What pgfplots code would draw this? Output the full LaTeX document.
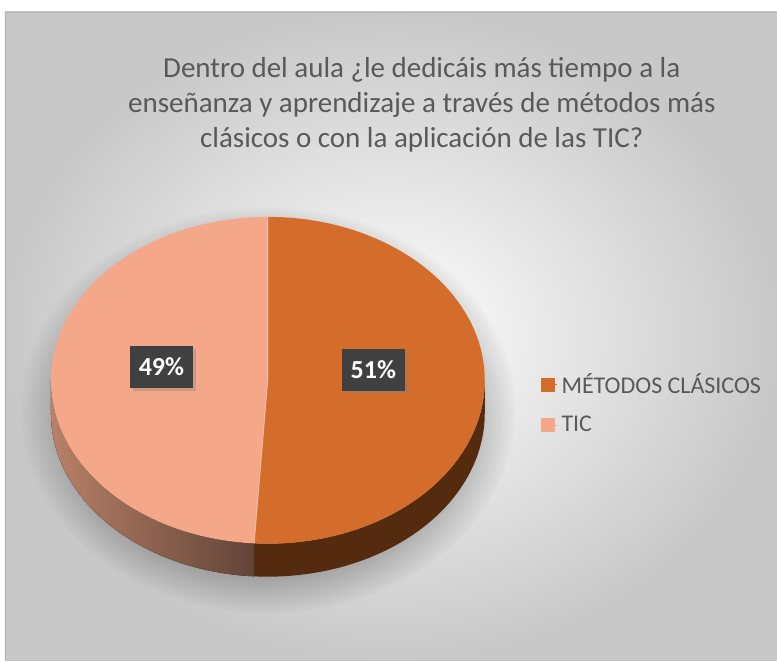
\documentclass[border=0pt]{standalone}
\usepackage{pgfplots}
\pgfplotsset{compat=1.18}
\usepackage{fontspec}
\setmainfont{Carlito}
\usetikzlibrary{calc,shadows,fadings}
\definecolor{cMet}{HTML}{D46D2C}
\definecolor{cTic}{HTML}{F4A889}
\definecolor{cMetSide}{HTML}{552B10}
\definecolor{cTicSideL}{HTML}{B88068}
\definecolor{cTicSideR}{HTML}{5C4034}
\definecolor{cTxt}{HTML}{595959}
\definecolor{cBox}{HTML}{404040}
\definecolor{cBgOut}{HTML}{C8C8C8}
% data (percent)
\def\valMet{51}
\def\valTic{49}
\begin{document}
\begin{tikzpicture}
\begin{axis}[x=0.5pt, y=0.5pt, xmin=0, xmax=777, ymin=-661, ymax=0,
  hide axis, clip=false, scale only axis,
  legend style={at={(axis cs:541,-404)}, anchor=west, draw=none, fill=none,
    font=\fontsize{12}{14}\selectfont, text=cTxt, row sep=6pt,
    inner sep=0pt},
  legend cell align=left,
  legend image code/.code={\fill[#1] (0pt,-3.3pt) rectangle (6.6pt,3.3pt); \path (0pt,0pt) -- (7.8pt,0pt);}]
% background
\fill[white] (axis cs:0,0) rectangle (axis cs:777,-661);
\shade[inner color=white, outer color=cBgOut] (axis cs:5,-12) rectangle (axis cs:777,-661);
\draw[gray!60, line width=0.4pt] (axis cs:5,-661) -- (axis cs:5,-12) -- (axis cs:777,-12);
% shadow
\fill[black, opacity=0.25, path fading=circle with fuzzy edge 20 percent] (axis cs:268,-410) ellipse[x radius=124pt, y radius=102pt];
\pgfmathsetmacro{\aEnd}{90-\valMet*3.6}
\pgfmathsetmacro{\aEndP}{\aEnd+360}
% side walls
\fill[left color=cTicSideL, right color=cTicSideR] (axis cs:268,-380.5) ++(180:108.5pt and 81.75pt) -- ++(-90:16.5pt)
  arc[start angle=180, end angle=\aEndP, x radius=108.5pt, y radius=81.75pt] -- ++(90:16.5pt)
  arc[start angle=\aEndP, end angle=180, x radius=108.5pt, y radius=81.75pt] -- cycle;
\fill[cMetSide] (axis cs:268,-380.5) ++(\aEndP:108.5pt and 81.75pt) -- ++(-90:16.5pt)
  arc[start angle=\aEndP, end angle=360, x radius=108.5pt, y radius=81.75pt] -- ++(90:16.5pt)
  arc[start angle=360, end angle=\aEndP, x radius=108.5pt, y radius=81.75pt] -- cycle;
% top faces
\fill[cMet] (axis cs:268,-380.5) -- ++(90:108.5pt and 81.75pt)
  arc[start angle=90, end angle=\aEnd, x radius=108.5pt, y radius=81.75pt] -- cycle;
\fill[cTic] (axis cs:268,-380.5) -- ++(90:108.5pt and 81.75pt)
  arc[start angle=90, end angle=\aEndP, x radius=108.5pt, y radius=81.75pt] -- cycle;
\draw[white, opacity=0.35, line width=0.4pt] (axis cs:268,-380.5) ++(90:108.5pt and 81.75pt) -- (axis cs:268,-380.5) -- ++(\aEnd:108.5pt and 81.75pt);
% data labels
\node[fill=cBox, text=white, font=\fontsize{13}{15}\selectfont\bfseries, minimum width=31.5pt, minimum height=21pt, inner sep=0pt,
  drop shadow={opacity=0.35, shadow xshift=1.5pt, shadow yshift=-1.5pt}] at (axis cs:161.5,-367) {\valTic\%};
\node[fill=cBox, text=white, font=\fontsize{13}{15}\selectfont\bfseries, minimum width=31.5pt, minimum height=21pt, inner sep=0pt,
  drop shadow={opacity=0.35, shadow xshift=1.5pt, shadow yshift=-1.5pt}] at (axis cs:373.5,-370) {\valMet\%};
% title
\node[text=cTxt, align=center, font=\fontsize{14.5}{17.5}\selectfont] at (axis cs:422,-105)
  {Dentro del aula ¿le dedicáis más tiempo a la\\enseñanza y aprendizaje a través de métodos más\\clásicos o con la aplicación de las TIC?};
% legend
\addlegendimage{cMet}
\addlegendentry{MÉTODOS CLÁSICOS}
\addlegendimage{cTic}
\addlegendentry{TIC}
\end{axis}
\end{tikzpicture}
\end{document}
